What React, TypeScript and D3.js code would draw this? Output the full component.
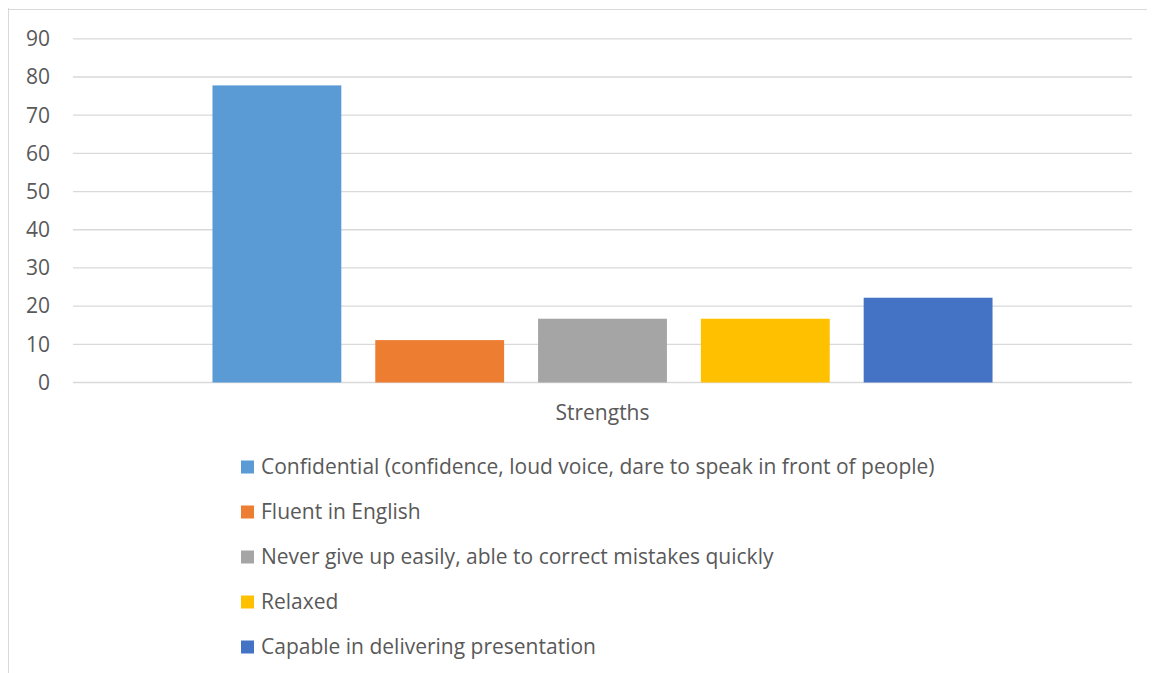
import React from "react";
import * as d3 from "d3";

const categories = ["Strengths"];
const seriesNames = [
  "Confidential (confidence, loud voice, dare to speak in front of people)",
  "Fluent in English",
  "Never give up easily, able to correct mistakes quickly",
  "Relaxed",
  "Capable in delivering presentation",
];
const seriesValues = [77.8, 11.1, 16.7, 16.7, 22.2];
const seriesColors = ["#5B9BD5", "#ED7D31", "#A5A5A5", "#FFC000", "#4472C4"];
const yTicks = [0, 10, 20, 30, 40, 50, 60, 70, 80, 90];

const W = 1147;
const H = 665;
const FONT = "'Open Sans', 'Noto Sans', sans-serif";
const FS = 21;

export default function App() {
  // svg origin is at page (8,8)
  const plotLeft = 73 - 8;
  const plotRight = 1132 - 8;
  const plotTop = 38.8 - 8;
  const plotBottom = 382.5 - 8;

  const y = d3.scaleLinear().domain([0, 90]).range([plotBottom, plotTop]);
  const x0 = d3
    .scaleBand<string>()
    .domain(categories)
    .range([plotLeft, plotRight])
    .paddingInner(0)
    .paddingOuter(0.1788);
  const x1 = d3
    .scaleBand<string>()
    .domain(seriesNames)
    .range([0, x0.bandwidth()])
    .paddingInner(0.2086)
    .paddingOuter(0);

  const legendX = 241 - 8;
  const legendY0 = 467 - 8;
  const legendStep = 45;

  return (
    <svg width={W} height={H} style={{ display: "block" }}>
      <rect x={0} y={0} width={W} height={H} fill="#ffffff" />
      <line x1={0.5} y1={0} x2={0.5} y2={H} stroke="#d9d9d9" strokeWidth={1} />
      <line x1={0} y1={1.5} x2={W} y2={1.5} stroke="#d9d9d9" strokeWidth={1} />
      {yTicks.map((t) => (
        <g key={t}>
          <line
            x1={plotLeft}
            x2={plotRight}
            y1={y(t)}
            y2={y(t)}
            stroke="#d9d9d9"
            strokeWidth={1.3}
          />
          <text
            x={50 - 8}
            y={y(t)}
            dy="0.35em"
            textAnchor="end"
            fontFamily={FONT}
            fontSize={FS}
            fill="#595959"
          >
            {t}
          </text>
        </g>
      ))}
      {categories.map((c) => (
        <g key={c} transform={`translate(${x0(c)},0)`}>
          {seriesNames.map((s, i) => (
            <rect
              key={s}
              x={x1(s)}
              y={y(seriesValues[i])}
              width={x1.bandwidth()}
              height={y(0) - y(seriesValues[i])}
              fill={seriesColors[i]}
            />
          ))}
          <text
            x={x0.bandwidth() / 2}
            y={413 - 8}
            dy="0.35em"
            textAnchor="middle"
            fontFamily={FONT}
            fontSize={FS}
            fill="#595959"
          >
            {c}
          </text>
        </g>
      ))}
      {seriesNames.map((s, i) => (
        <g key={s} transform={`translate(${legendX},${legendY0 + i * legendStep})`}>
          <rect x={0} y={-6.5} width={13} height={13} fill={seriesColors[i]} />
          <text
            x={20}
            y={0}
            dy="0.35em"
            fontFamily={FONT}
            fontSize={FS}
            fill="#595959"
          >
            {s}
          </text>
        </g>
      ))}
    </svg>
  );
}
